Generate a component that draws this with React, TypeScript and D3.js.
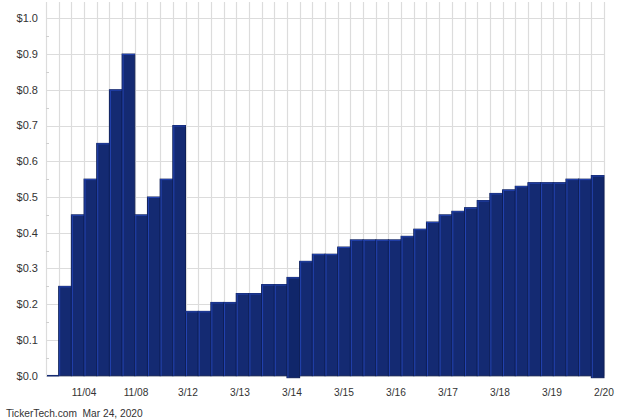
import React from 'react';
import * as d3 from 'd3';

// dividend per period
const values = [
  0, 0.25, 0.45, 0.55, 0.65, 0.8, 0.9, 0.45, 0.5, 0.55, 0.7,
  0.18, 0.18, 0.205, 0.205, 0.23, 0.23, 0.255, 0.255, 0.275, 0.32,
  0.34, 0.34, 0.36, 0.38, 0.38, 0.38, 0.38, 0.39, 0.41, 0.43,
  0.45, 0.46, 0.47, 0.49, 0.51, 0.52, 0.53, 0.54, 0.54, 0.54,
  0.55, 0.55, 0.56,
];
const highlighted = [19, 43];
const tickLabels = ['11/04', '11/08', '3/12', '3/13', '3/14', '3/15', '3/16', '3/17', '3/18', '3/19', '2/20'];
const yTicks = [0, 0.1, 0.2, 0.3, 0.4, 0.5, 0.6, 0.7, 0.8, 0.9, 1.0];
const footer = 'TickerTech.com  Mar 24, 2020';

const W = 640;
const H = 420;
const left = 46;
const right = 604;
const top = 2;
const base = 375.7;
const labelStep = 52;
const font = '"Liberation Sans", Arial, sans-serif';

export default function App() {
  const x = d3.scaleBand<number>().domain(d3.range(values.length)).range([left, right]).padding(0);
  const y = d3.scaleLinear().domain([0, 1]).range([base, 18.3]);
  const xl = d3.scalePoint<string>().domain(tickLabels)
    .range([right - labelStep * (tickLabels.length - 1), right]);
  const bw = x.bandwidth();
  const minor = d3.range(0.05, 1.0, 0.1);

  return (
    <svg width={W} height={H} style={{ position: 'absolute', left: 0, top: 0, background: '#fff' }}>
      {/* vertical grid at every bar boundary */}
      {d3.range(values.length + 1).map(i => {
        const gx = Math.round(left + i * bw) + 0.5;
        return <line key={'v' + i} x1={gx} x2={gx} y1={top} y2={base} stroke="#dcdcdc" strokeWidth={1.2} />;
      })}
      {yTicks.map(t => (
        <line key={'h' + t} x1={left} x2={right} y1={Math.round(y(t)) + 0.5} y2={Math.round(y(t)) + 0.5}
          stroke="#dcdcdc" strokeWidth={1.2} />
      ))}
      {minor.map(t => (
        <line key={'m' + t} x1={left} x2={left + 3} y1={Math.round(y(t)) + 0.5} y2={Math.round(y(t)) + 0.5}
          stroke="#cfcfcf" />
      ))}

      {values.map((v, i) => {
        const hi = highlighted.includes(i);
        const y0 = y(v);
        const bottom = hi ? base + 2 : base;
        if (v === 0) {
          return <line key={i} x1={x(i)! + 1} x2={x(i)! + bw} y1={base} y2={base} stroke="#142a72" strokeWidth={1.5} />;
        }
        return (
          <g key={i}>
            <rect x={x(i)!} y={y0} width={bw} height={bottom - y0}
              fill={hi ? '#10266a' : '#142a72'} stroke="#0e1f58" strokeWidth={1} />
            <line x1={x(i)! + 1} x2={x(i)! + 1} y1={y0 + 1} y2={bottom} stroke="#2343b0" strokeWidth={1} />
            <line x1={x(i)!} x2={x(i)! + bw} y1={y0 + 0.5} y2={y0 + 0.5} stroke="#2343b0" strokeWidth={1} />
          </g>
        );
      })}

      {yTicks.map(t => (
        <text key={'yl' + t} x={38} y={y(t)} dy="0.35em" textAnchor="end"
          fontFamily={font} fontSize={11} fill="#333">
          {'$' + d3.format('.1f')(t)}
        </text>
      ))}
      {tickLabels.map(l => (
        <text key={l} x={xl(l)} y={392} dy="0.35em" textAnchor="middle"
          fontFamily={font} fontSize={10.2} fill="#333">{l}</text>
      ))}
      <text x={6} y={413} dy="0.35em" fontFamily={font} fontSize={10.2} fill="#333" xmlSpace="preserve">{footer}</text>
    </svg>
  );
}
